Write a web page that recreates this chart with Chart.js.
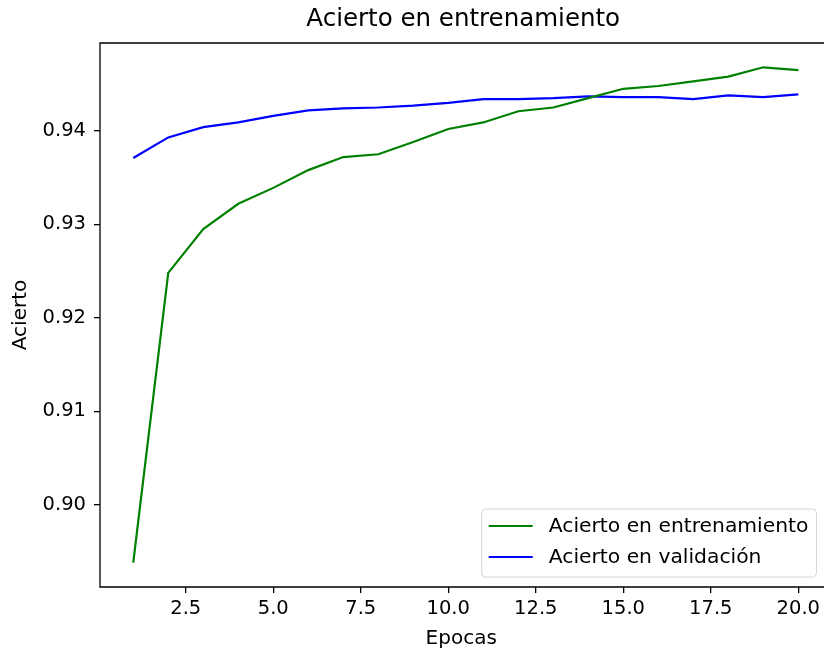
<!DOCTYPE html>
<html>
<head>
<meta charset="utf-8">
<script src="https://cdn.jsdelivr.net/npm/chart.js@4.4.1/dist/chart.umd.min.js"></script>
<style>
  html, body { margin: 0; padding: 0; background: #fff; }
</style>
</head>
<body>
<canvas id="acc" width="824" height="653"></canvas>
<script>
// accuracy per epoch
const epochs = [1, 2, 3, 4, 5, 6, 7, 8, 9, 10, 11, 12, 13, 14, 15, 16, 17, 18, 19, 20];
const trainAcc = [0.8938, 0.9248, 0.9295, 0.9322, 0.9339, 0.9358, 0.9372, 0.9375, 0.9388, 0.9402,
                  0.9409, 0.9421, 0.9425, 0.9435, 0.9445, 0.9448, 0.9453, 0.9458, 0.9468, 0.9465];
const valAcc = [0.9371, 0.9393, 0.9404, 0.9409, 0.9416, 0.9422, 0.9424, 0.9425, 0.9427, 0.9430,
                0.9434, 0.9434, 0.9435, 0.9437, 0.9436, 0.9436, 0.9434, 0.9438, 0.9436, 0.9439];
const xTicks = [2.5, 5, 7.5, 10, 12.5, 15, 17.5, 20];
const yTicks = [0.90, 0.91, 0.92, 0.93, 0.94];

const FONT = '"DejaVu Sans", sans-serif';
Chart.defaults.font.family = FONT;
Chart.defaults.color = '#000';

// title centred over the plot, plus the spines (right one falls off the canvas)
const frame = {
  id: 'frame',
  afterDraw(chart) {
    const { ctx, chartArea: a } = chart;
    ctx.save();
    ctx.strokeStyle = '#000';
    ctx.lineWidth = 1.3;
    ctx.beginPath();
    ctx.moveTo(a.right + 2, a.top);
    ctx.lineTo(a.left, a.top);
    ctx.lineTo(a.left, a.bottom);
    ctx.lineTo(a.right + 2, a.bottom);
    ctx.stroke();
    ctx.fillStyle = '#000';
    ctx.font = '24.5px ' + FONT;
    ctx.textAlign = 'center';
    ctx.textBaseline = 'middle';
    ctx.fillText('Acierto en entrenamiento', (a.left + a.right) / 2 + 2, 20);
    ctx.restore();
  }
};

// legend box in the lower right corner of the plot
const legendBox = {
  id: 'legendBox',
  afterDraw(chart) {
    const { ctx, chartArea: a } = chart;
    const sets = chart.data.datasets;
    ctx.save();
    ctx.font = '20.3px ' + FONT;
    const textW = Math.max(...sets.map(d => ctx.measureText(d.label).width));
    const w = 7 + 44 + 16 + textW + 8;
    const h = 68;
    const right = a.right - 6, bottom = a.bottom - 10;
    const left = right - w, top = bottom - h;
    ctx.beginPath();
    ctx.roundRect(left, top, w, h, 4);
    ctx.fillStyle = 'rgba(255,255,255,0.8)';
    ctx.fill();
    ctx.strokeStyle = '#d6d6d6';
    ctx.lineWidth = 1;
    ctx.stroke();
    sets.forEach((d, i) => {
      const y = top + 17 + i * 31;
      ctx.beginPath();
      ctx.moveTo(left + 7, y);
      ctx.lineTo(left + 51, y);
      ctx.strokeStyle = d.borderColor;
      ctx.lineWidth = 2.2;
      ctx.stroke();
      ctx.fillStyle = '#000';
      ctx.textBaseline = 'middle';
      ctx.fillText(d.label, left + 67, y + 1);
    });
    ctx.restore();
  }
};

new Chart(document.getElementById('acc').getContext('2d'), {
  type: 'line',
  data: {
    labels: epochs,
    datasets: [
      {
        label: 'Acierto en entrenamiento',
        data: epochs.map((e, i) => ({ x: e, y: trainAcc[i] })),
        borderColor: '#008000',
        borderWidth: 2.2,
        pointRadius: 0,
        tension: 0,
        fill: false
      },
      {
        label: 'Acierto en validación',
        data: epochs.map((e, i) => ({ x: e, y: valAcc[i] })),
        borderColor: '#0000ff',
        borderWidth: 2.2,
        pointRadius: 0,
        tension: 0,
        fill: false
      }
    ]
  },
  options: {
    responsive: false,
    devicePixelRatio: 1,
    animation: false,
    layout: { padding: { top: 43, right: 0, left: 0, bottom: 0 } },
    plugins: {
      legend: { display: false },
      title: { display: false },
      tooltip: { enabled: false }
    },
    scales: {
      x: {
        type: 'linear',
        min: 0.05,
        max: 20.69,
        afterBuildTicks: s => { s.ticks = xTicks.map(v => ({ value: v })); },
        afterFit: s => { s.height = 66; },
        ticks: {
          callback: v => v.toFixed(1),
          font: { size: 19.5 },
          padding: 4,
          maxRotation: 0
        },
        grid: { drawOnChartArea: false, drawTicks: true, tickLength: 6, color: '#000', lineWidth: 1.3 },
        border: { display: false },
        title: { display: true, text: 'Epocas', font: { size: 20 }, padding: { top: 0, bottom: 2 } }
      },
      y: {
        min: 0.8912,
        max: 0.9494,
        afterBuildTicks: s => { s.ticks = yTicks.map(v => ({ value: v })); },
        afterFit: s => { s.width = 100; },
        ticks: {
          callback: v => v.toFixed(2),
          font: { size: 19.5 },
          padding: 8
        },
        grid: { drawOnChartArea: false, drawTicks: true, tickLength: 6, color: '#000', lineWidth: 1.3 },
        border: { display: false },
        title: { display: true, text: 'Acierto', font: { size: 20 }, padding: { top: 9, bottom: 0 } }
      }
    }
  },
  plugins: [frame, legendBox]
});
</script>
</body>
</html>
